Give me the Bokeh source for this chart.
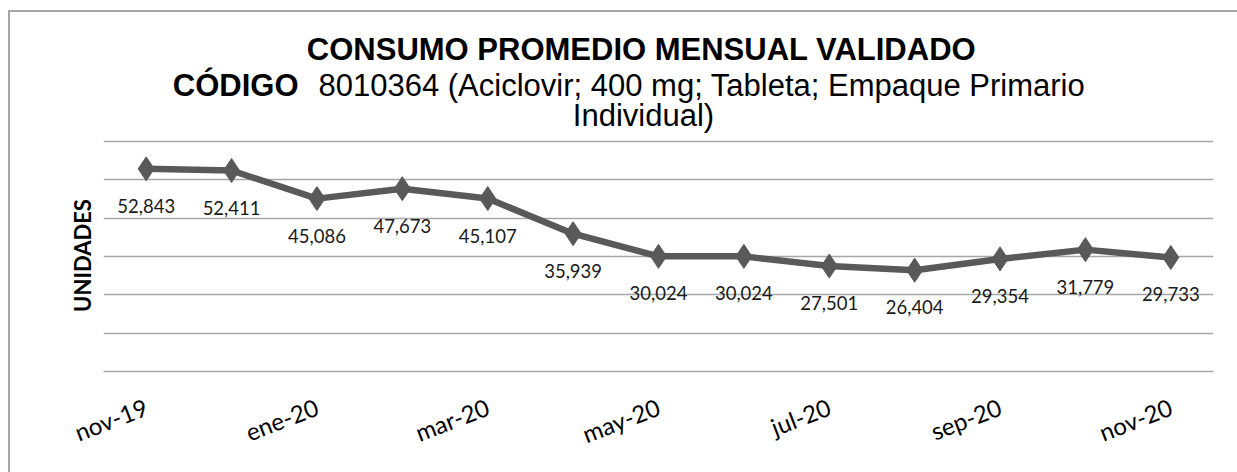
import math
from bokeh.plotting import figure
from bokeh.layouts import column
from bokeh.models import (ColumnDataSource, LabelSet, Label, FixedTicker, Range1d)
from bokeh.core.properties import value
from bokeh.embed import file_html
from bokeh.resources import INLINE

months = ["nov-19", "dic-19", "ene-20", "feb-20", "mar-20", "abr-20", "may-20",
          "jun-20", "jul-20", "ago-20", "sep-20", "oct-20", "nov-20"]
values = [52843, 52411, 45086, 47673, 45107, 35939, 30024,
          30024, 27501, 26404, 29354, 31779, 29733]
shown_ticks = [0, 2, 4, 6, 8, 10, 12]
y_ticks = [0, 10000, 20000, 30000, 40000, 50000, 60000]

title_1 = "CONSUMO PROMEDIO MENSUAL VALIDADO"
title_2_bold = "CÓDIGO"
title_2_rest = "8010364 (Aciclovir; 400 mg; Tableta; Empaque Primario"
title_3 = "Individual)"
y_label = "UNIDADES"

W = 1227
TH = 127          # title band height
CH = 333          # chart height

# ---------------- title band ----------------
t = figure(width=W, height=TH, output_backend="svg", toolbar_location=None,
           x_range=Range1d(0, 1), y_range=Range1d(0, 1),
           min_border=0, min_border_left=0, min_border_right=0,
           min_border_top=0, min_border_bottom=0)
t.axis.visible = False
t.grid.visible = False
t.outline_line_color = None
t.background_fill_color = "white"
t.border_fill_color = "white"

tf = "Liberation Sans"
fs = "31px"
t.add_layout(Label(x=538, y=90, x_units="screen", y_units="screen", text=title_1,
                   text_font=tf, text_font_size=fs, text_font_style="bold",
                   text_align="center", text_baseline="alphabetic", text_color="black"))
t.add_layout(Label(x=195, y=54, x_units="screen", y_units="screen", text=title_2_bold,
                   text_font=tf, text_font_size=fs, text_font_style="bold",
                   text_align="right", text_baseline="alphabetic", text_color="black"))
t.add_layout(Label(x=215, y=54, x_units="screen", y_units="screen", text=title_2_rest,
                   text_font=tf, text_font_size=fs,
                   text_align="left", text_baseline="alphabetic", text_color="black"))
t.add_layout(Label(x=540, y=24, x_units="screen", y_units="screen", text=title_3,
                   text_font=tf, text_font_size=fs,
                   text_align="center", text_baseline="alphabetic", text_color="black"))

# ---------------- chart ----------------
xs = list(range(len(months)))
src = ColumnDataSource(dict(x=xs, y=values, lab=[f"{v:,}" for v in values]))

p = figure(width=W, height=CH, output_backend="svg", toolbar_location=None,
           x_range=Range1d(-0.5, len(months) - 0.5), y_range=Range1d(0, 60500),
           min_border_left=93, min_border_right=24, min_border_top=0,
           min_border_bottom=101)
p.outline_line_color = None
p.background_fill_color = "white"
p.border_fill_color = "white"

grey = "#595959"
p.line("x", "y", source=src, line_color=grey, line_width=6.5)
p.scatter("x", "y", source=src, marker="diamond", size=24, fill_color=grey,
          line_color=grey)

labels = LabelSet(x="x", y="y", text="lab", source=src, y_offset=-37,
                  text_align="center", text_baseline="middle",
                  text_font=value("Lato"), text_font_size="18.5px", text_color="#1a1a1a")
p.add_layout(labels)

p.xaxis.ticker = FixedTicker(ticks=shown_ticks)
p.xaxis.major_label_overrides = {i: months[i] for i in shown_ticks}
p.xaxis.major_label_orientation = 0.37
p.xaxis.major_label_text_font = "Lato"
p.xaxis.major_label_text_font_size = "24px"
p.xaxis.major_label_text_color = "black"
p.xaxis.major_label_standoff = 28
p.xaxis.major_tick_line_color = None
p.xaxis.minor_tick_line_color = None
p.xaxis.axis_line_color = "#a6a6a6"
p.xaxis.axis_line_width = 1.5

p.yaxis.ticker = FixedTicker(ticks=[])
p.yaxis.major_tick_line_color = None
p.yaxis.minor_tick_line_color = None
p.yaxis.major_tick_out = 0
p.yaxis.major_label_standoff = 0
p.yaxis.axis_line_color = None
p.yaxis.axis_label = y_label
p.yaxis.axis_label_text_font = "Lato"
p.yaxis.axis_label_text_font_style = "bold"
p.yaxis.axis_label_text_font_size = "22px"
p.yaxis.axis_label_text_color = "black"
p.yaxis.axis_label_standoff = 8

p.xgrid.grid_line_color = None
p.ygrid.ticker = FixedTicker(ticks=y_ticks)
p.ygrid.grid_line_color = "#a6a6a6"
p.ygrid.grid_line_width = 1.5

layout = column(t, p, spacing=0)
layout.styles = {"border-left": "2px solid #a6a6a6", "border-top": "2px solid #a6a6a6",
                 "margin-top": "10px", "margin-left": "8px"}

open("out.html", "w").write(file_html(layout, INLINE))
